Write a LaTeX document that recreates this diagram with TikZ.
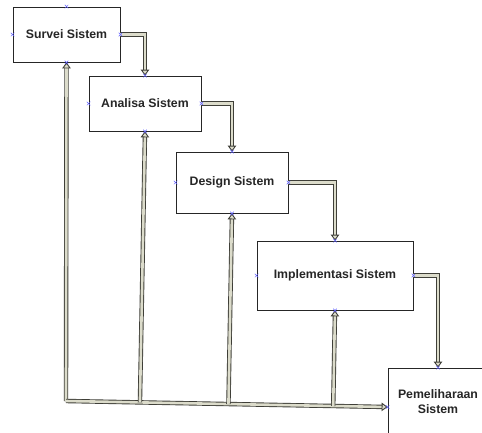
\documentclass[tikz,border=0pt]{standalone}
\usepackage{fontspec}
\setmainfont{Liberation Sans}
\usetikzlibrary{arrows.meta,calc,shapes.misc}
\definecolor{ink}{HTML}{262626}
\definecolor{pipe}{HTML}{3F3F38}
\definecolor{pipefill}{HTML}{DCDCCB}
\definecolor{cpblue}{HTML}{6060FF}

\begin{document}
\begin{tikzpicture}[x=1pt,y=-1pt,
  stage/.style={draw=ink,line width=0.8pt,fill=white,inner sep=0pt,align=center,text=ink,font=\bfseries\fontsize{12.3}{15}\selectfont},
  flow/.style={draw=pipe,line width=0.9pt,double=pipefill,double distance=2.6pt,-{Triangle[open,fill=pipefill,length=6pt,width=8.5pt]}},
  cpt/.style={draw=cpblue,cross out,line width=0.5pt,minimum size=3pt,inner sep=0pt}
]
  \useasboundingbox (0,0) rectangle (482,432);
  \node[stage,minimum width=107pt,minimum height=55pt] (sv) at (66.5,34.5)  {Survei Sistem};
  \node[stage,minimum width=112pt,minimum height=55pt] (an) at (145,103.5)  {Analisa Sistem};
  \node[stage,minimum width=112pt,minimum height=61pt] (ds) at (232,182.5)  {Design Sistem};
  \node[stage,minimum width=156pt,minimum height=69pt] (im) at (335,275.5)  {Implementasi Sistem};
  \node[stage,minimum width=100pt,minimum height=68pt] (pm) at (438,402)    {Pemeliharaan\\Sistem};
  % alur maju
  \draw[flow] (sv.east) -| (an.north);
  \draw[flow] (an.east) -| (ds.north);
  \draw[flow] (ds.east) -| (im.north);
  \draw[flow] (im.east) -| (pm.north);
  % alur balik
  \coordinate (fbl) at (66,401);
  \coordinate (fbr) at ($(pm.west)+(0,5)$);
  \draw[flow] (fbl) -- (sv.south);
  \draw[flow] (fbl) -- (fbr);
  \draw[flow] ($(fbl)!(an.south)!(fbr)$) -- (an.south);
  \draw[flow] ($(fbl)!(ds.south)!(fbr)$) -- (ds.south);
  \draw[flow] ($(fbl)!(im.south)!(fbr)$) -- (im.south);
  % titik sambung
  \foreach \n in {sv,an,ds,im}
    \foreach \a in {north,south,east,west}
      \node[cpt] at (\n.\a) {};
  \node[cpt] at (pm.north) {};
  \node[cpt] at (fbr) {};
\end{tikzpicture}
\end{document}
